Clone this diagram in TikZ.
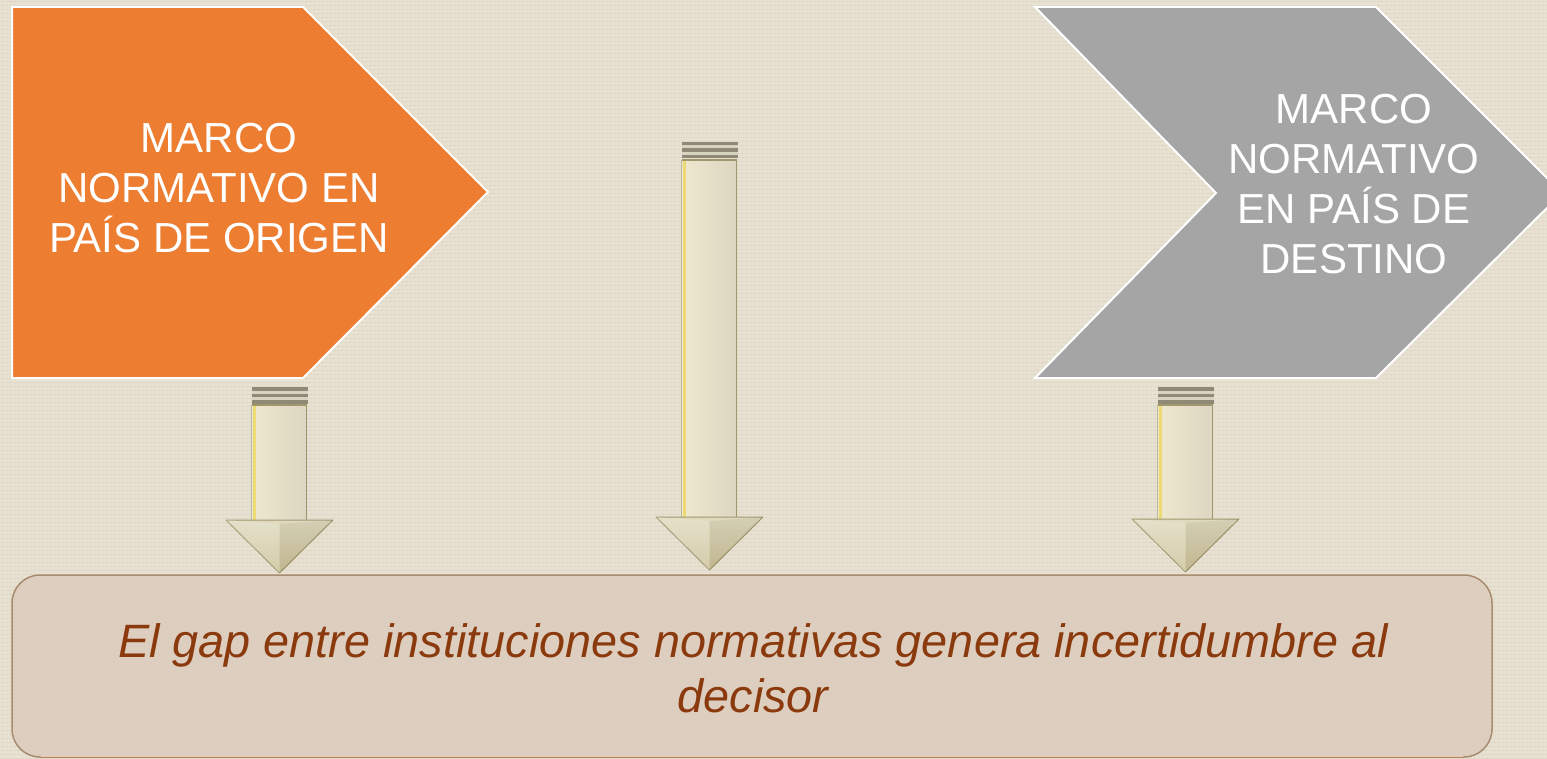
\documentclass[tikz,border=0pt]{standalone}
\usepackage{fontspec}
\setmainfont{Liberation Sans}
\definecolor{bgc}{HTML}{E7E0D0}
\definecolor{orangec}{HTML}{ED7D31}
\definecolor{grayc}{HTML}{A5A5A5}
\definecolor{boxfill}{HTML}{DCCCBD}
\definecolor{boxedge}{HTML}{A98C70}
\definecolor{txtbrown}{HTML}{8B3A0E}
\definecolor{capdark}{HTML}{8E8A76}
\definecolor{caplight}{HTML}{D8D2C0}
\definecolor{shaftl}{HTML}{EEE8CE}
\definecolor{shaftr}{HTML}{DCD6C2}
\definecolor{hilite}{HTML}{EEDA72}
\definecolor{edgedark}{HTML}{A0976F}
\definecolor{headtop}{HTML}{E0DABF}
\definecolor{headbot}{HTML}{CBC196}
\tikzset{
  chevron/.style={draw=white, line width=2pt, line join=miter},
  headtext/.style={text=white, align=center, font=\fontsize{42}{50}\selectfont},
  gaptxt/.style={text=txtbrown, align=center, font=\fontsize{46.8}{55}\selectfont\itshape},
  pics/downarr/.style={code={
    \fill[capdark]  (-28,0)   rectangle (28,3.5);
    \fill[caplight] (-28,3.5) rectangle (28,6.5);
    \fill[capdark]  (-28,6.5) rectangle (28,10);
    \fill[caplight] (-28,10)  rectangle (28,13);
    \fill[capdark]  (-28,13)  rectangle (28,16.5);
    \shade[left color=shaftl, right color=shaftr] (-27.5,18) rectangle (27.5,#1+1);
    \draw[hilite, line width=3pt] (-25.5,19) -- (-25.5,#1);
    \draw[edgedark, line width=1.2pt] (-27.5,18) -- (27.5,18);
    \draw[edgedark, line width=1.6pt] (27,18) -- (27,#1);
    \draw[edgedark!70, line width=0.8pt] (-27.8,18) -- (-27.8,#1);
    \shade[top color=headtop, bottom color=headbot, draw=edgedark, line width=1pt, line join=round]
      (-53.5,#1) -- (53.5,#1) -- (0,#1+53) -- cycle;
    \fill[white, opacity=0.18] (-53.5,#1) -- (0,#1+4) -- (0,#1+53) -- cycle;
    \fill[black, opacity=0.05] (53.5,#1) -- (0,#1+4) -- (0,#1+53) -- cycle;
  }}
}
\begin{document}
\begin{tikzpicture}[x=1pt, y=-1pt]
  \useasboundingbox (0,0) rectangle (1547,759);
  \clip (0,0) rectangle (1547,759);
  \fill[bgc] (0,0) rectangle (1547,759);
  % linen texture
  \foreach \i in {0,4,...,1547} {
    \draw[white, opacity=0.10, line width=1pt] (\i,0) -- (\i,759);
  }
  \foreach \j in {2,6,...,759} {
    \draw[black, opacity=0.035, line width=1pt] (0,\j) -- (1547,\j);
  }

  % top shapes
  \draw[chevron, fill=orangec] (12,7) -- (303,7) -- (488,192) -- (303,378) -- (12,378) -- cycle;
  \draw[chevron, fill=grayc] (1035,7) -- (1376,7) -- (1562,193) -- (1376,378) -- (1035,378) -- (1216,193) -- cycle;

  \node[headtext] (orig) at (219,188.5) {MARCO\\NORMATIVO EN\\PAÍS DE ORIGEN};
  \node[headtext] (dest) at (1354,184.5) {MARCO\\NORMATIVO\\EN PAÍS DE\\DESTINO};

  % bottom box
  \node[draw=boxedge, line width=1.5pt, fill=boxfill, fill opacity=0.85, rounded corners=28pt,
        minimum width=1480pt, minimum height=182pt, inner sep=0pt] (box) at (752,666) {};
  \draw[orange!30, line width=1.5pt, opacity=0.7] ([xshift=30pt,yshift=1.5pt]box.south west) -- ([xshift=-30pt,yshift=1.5pt]box.south east);
  \node[gaptxt] (gap) at (753,668) {El gap entre instituciones normativas genera incertidumbre al\\decisor};

  % arrows
  \coordinate (a1) at (279.5,387);
  \coordinate (a2) at (709.5,142);
  \coordinate (a3) at (1185.5,387);
  \pic at (a1) {downarr=133};
  \pic at (a2) {downarr=375};
  \pic at (a3) {downarr=132};
\end{tikzpicture}
\end{document}
